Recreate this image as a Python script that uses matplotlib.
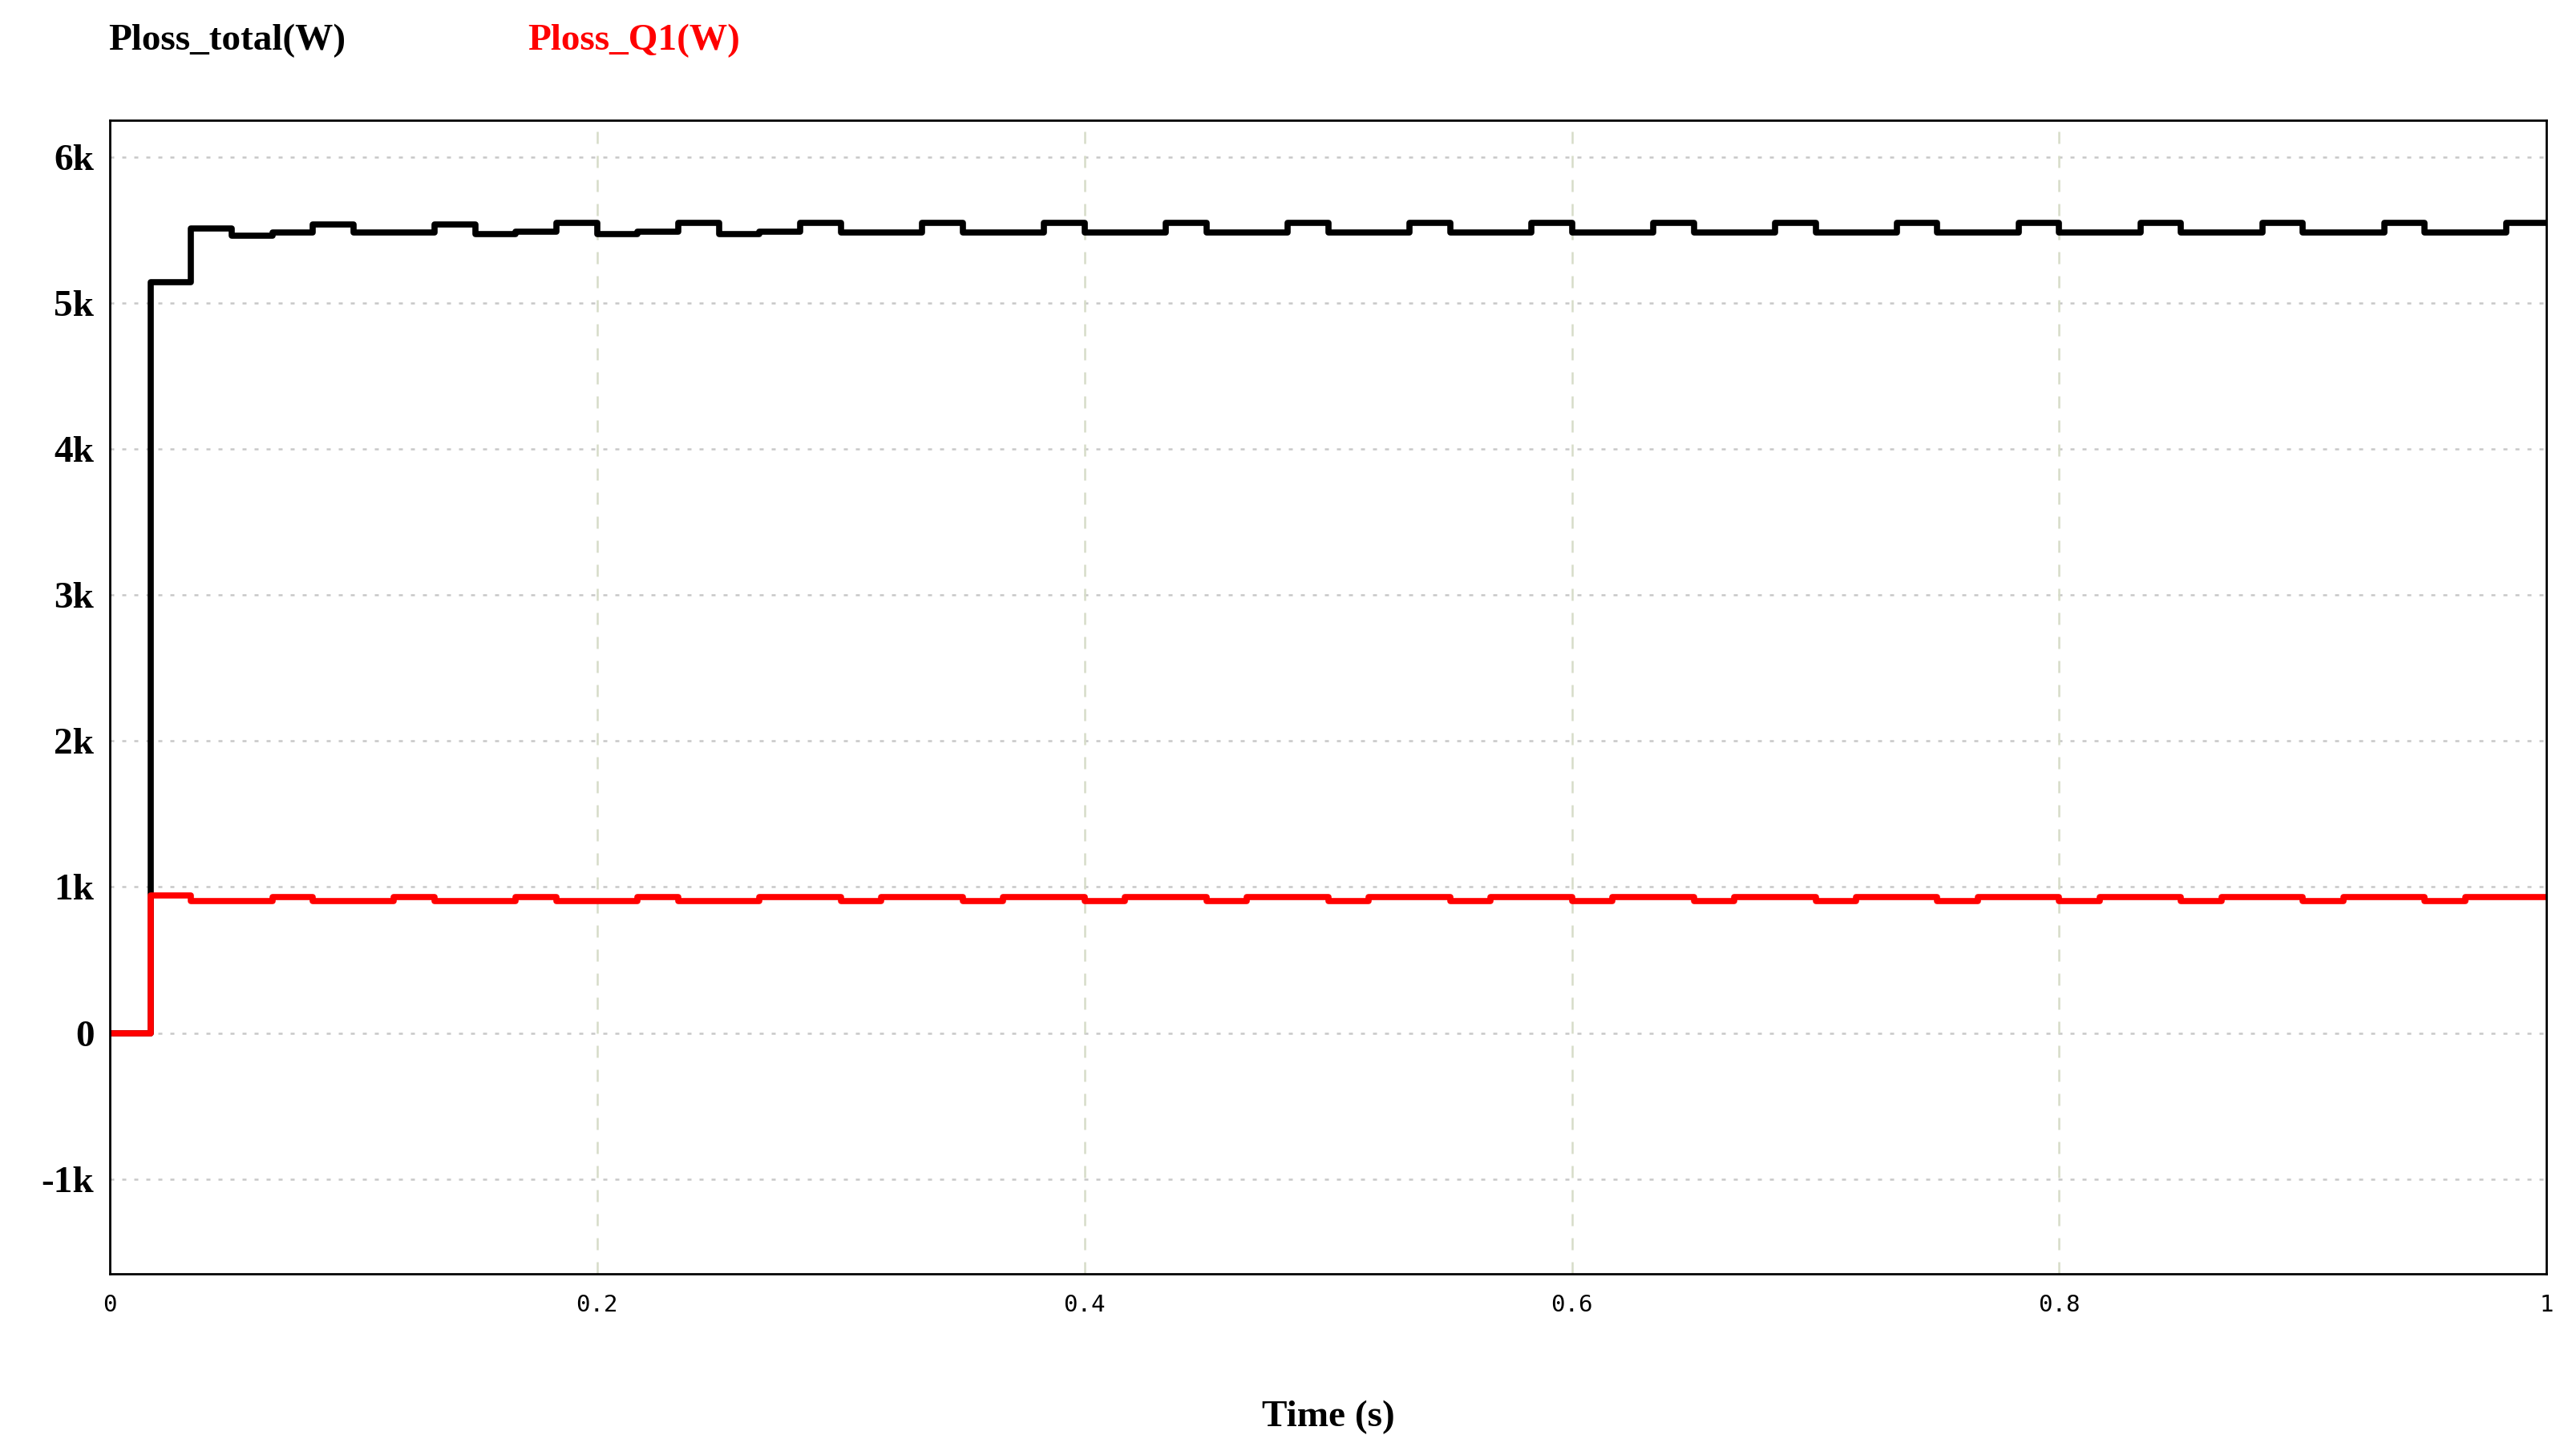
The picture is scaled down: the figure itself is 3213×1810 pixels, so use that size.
import numpy as np
import matplotlib
matplotlib.use("Agg")
import matplotlib.pyplot as plt

# sample time 1/60 s, values held between samples
t_samples = [k / 60 for k in range(61)]

ploss_total = [0, 5140, 5510, 5460, 5480, 5540, 5480, 5480, 5540, 5470,
               5490, 5550, 5470, 5490, 5550, 5470, 5490, 5550, 5480, 5480,
               5550, 5480, 5480, 5550, 5480, 5480, 5550, 5480, 5480, 5550,
               5480, 5480, 5550, 5480, 5480, 5550, 5480, 5480, 5550, 5480,
               5480, 5550, 5480, 5480, 5550, 5480, 5480, 5550, 5480, 5480,
               5550, 5480, 5480, 5550, 5480, 5480, 5550, 5480, 5480, 5550,
               5550]

ploss_q1 = [0, 940, 905, 905, 930, 905, 905, 930, 905, 905,
            930, 905, 905, 930, 905, 905, 930, 930, 905, 930,
            930, 905, 930, 930, 905, 930, 930, 905, 930, 930,
            905, 930, 930, 905, 930, 930, 905, 930, 930, 905,
            930, 930, 905, 930, 930, 905, 930, 930, 905, 930,
            930, 905, 930, 930, 905, 930, 930, 905, 930, 930,
            930]

yticks = [-1000, 0, 1000, 2000, 3000, 4000, 5000, 6000]
ytick_labels = ["-1k", "0", "1k", "2k", "3k", "4k", "5k", "6k"]
xticks = [0, 0.2, 0.4, 0.6, 0.8, 1]
xtick_labels = ["0", "0.2", "0.4", "0.6", "0.8", "1"]

fig = plt.figure(figsize=(32.13, 18.10), dpi=100)
ax = fig.add_axes([0.0426, 0.122, 0.946, 0.795])

ax.step(t_samples, ploss_total, where="post", color="black", lw=5.5)
ax.step(t_samples, ploss_q1, where="post", color="#ff0000", lw=5.5)

ax.set_xlim(0, 1)
ax.set_ylim(-1650, 6250)
ax.set_yticks(yticks)
ax.set_yticklabels(ytick_labels, fontfamily="Liberation Serif",
                   fontweight="bold", fontsize=34)
ax.set_xticks(xticks)
ax.set_xticklabels(xtick_labels, fontfamily="DejaVu Sans Mono", fontsize=21)
ax.tick_params(length=0, pad=14)
ax.tick_params(axis="x", pad=18)

for y in yticks:
    ax.axhline(y, color="#c8c8c8", lw=1.8, ls=(0, (2, 4)), zorder=0)
for x in xticks[1:-1]:
    ax.axvline(x, color="#d6dcc8", lw=1.8, ls=(0, (6, 6)), zorder=0)

for s in ax.spines.values():
    s.set_linewidth(2)

ax.set_xlabel("Time (s)", fontfamily="Liberation Serif", fontweight="bold",
              fontsize=34, labelpad=75)

fig.text(0.042, 0.972, "Ploss_total(W)", color="black", fontsize=34,
         fontfamily="Liberation Serif", fontweight="bold", va="center")
fig.text(0.205, 0.972, "Ploss_Q1(W)", color="#ff0000", fontsize=34,
         fontfamily="Liberation Serif", fontweight="bold", va="center")

fig.savefig("out.png", dpi=100)
